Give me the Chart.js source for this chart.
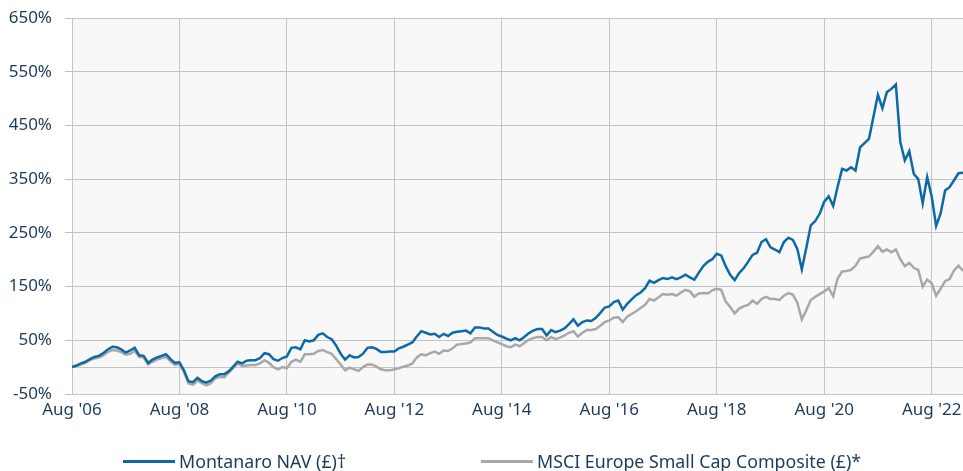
<!DOCTYPE html>
<html>
<head>
<meta charset="utf-8">
<title>Montanaro NAV vs MSCI Europe Small Cap</title>
<script src="https://cdn.jsdelivr.net/npm/chart.js@4.4.1/dist/chart.umd.min.js"></script>
<style>
  html, body { margin: 0; padding: 0; background: #fff; }
  #wrap { position: relative; width: 963px; height: 471px; }
  #chart { display: block; }
  .legend-item { position: absolute; top: 449px; height: 24px; display: flex; align-items: center;
    font-family: 'Noto Sans', sans-serif; font-size: 17.8px; color: #1b3a5c; white-space: nowrap; }
  .legend-item .swatch { display: inline-block; width: 52px; height: 3px; margin-right: 4px; }
</style>
</head>
<body>
<div id="wrap">
  <canvas id="chart" width="963" height="471"></canvas>
  <div class="legend-item" style="left:123px"><span class="swatch" style="background:#0e6aa5"></span>Montanaro NAV (£)†</div>
  <div class="legend-item" style="left:481px"><span class="swatch" style="background:#a8a8a8"></span>MSCI Europe Small Cap Composite (£)*</div>
</div>
<script>
// monthly, Aug 2006 (index 0) to Mar 2023 (index 199), cumulative % return
const montanaro = [
  0, 3, 7, 10, 15, 19, 21, 26, 33, 38,
  37, 33, 27, 31, 36, 22, 21, 8, 14, 18,
  21, 24, 15, 8, 9, -6, -26, -28, -20, -26,
  -29, -25, -17, -13, -13, -8, 1, 10, 7, 12,
  13, 13, 17, 26, 24, 15, 12, 17, 20, 36,
  37, 33, 50, 48, 50, 60, 63, 56, 52, 40,
  25, 14, 22, 18, 19, 25, 36, 37, 34, 28,
  28, 29, 29, 35, 38, 42, 46, 57, 67, 64,
  61, 62, 56, 62, 58, 64, 66, 67, 68, 63,
  74, 74, 72, 72, 66, 60, 57, 53, 50, 54,
  50, 56, 63, 68, 71, 71, 59, 69, 65, 68,
  72, 80, 89, 77, 84, 87, 86, 92, 101, 111,
  113, 121, 124, 107, 118, 126, 134, 139, 147, 161,
  157, 162, 166, 164, 167, 164, 167, 172, 167, 163,
  176, 188, 196, 201, 211, 208, 188, 172, 162, 175,
  184, 196, 209, 213, 233, 238, 223, 219, 214, 233,
  241, 237, 220, 182, 222, 264, 272, 286, 308, 318,
  300, 336, 369, 366, 372, 366, 409, 417, 425, 466,
  507, 482, 512, 518, 526, 419, 385, 402, 360, 350,
  305, 354, 318, 263, 286, 329, 335, 348, 361, 362
];
const msci = [
  0, 2, 5, 8, 13, 16, 18, 22, 28, 32,
  31, 28, 23, 25, 30, 19, 18, 5, 10, 14,
  17, 19, 11, 4, 6, -9, -30, -33, -25, -30,
  -34, -30, -21, -18, -19, -10, -2, 7, 2, 3,
  4, 4, 7, 13, 8, 0, -4, 0, -2, 10,
  14, 10, 24, 24, 25, 30, 32, 28, 25, 15,
  5, -6, -1, -4, -7, 0, 5, 5, 1, -4,
  -6, -6, -4, -2, 1, 3, 7, 18, 24, 22,
  26, 29, 25, 31, 30, 35, 42, 43, 44, 46,
  54, 54, 54, 54, 50, 46, 43, 39, 37, 42,
  39, 45, 51, 54, 56, 56, 50, 56, 52, 55,
  59, 64, 67, 57, 64, 69, 69, 71, 77, 84,
  87, 92, 93, 84, 94, 99, 104, 110, 116, 127,
  124, 130, 136, 135, 136, 133, 139, 144, 141, 131,
  137, 138, 137, 143, 146, 144, 122, 112, 100, 109,
  113, 116, 124, 118, 127, 131, 127, 127, 125, 133,
  138, 135, 120, 89, 106, 125, 131, 136, 141, 147,
  132, 165, 178, 179, 181, 189, 202, 204, 206, 215,
  225, 215, 219, 214, 219, 201, 188, 194, 185, 181,
  150, 163, 156, 133, 146, 160, 164, 180, 189, 179
];
const xTickLabels = ["Aug '06", "Aug '08", "Aug '10", "Aug '12", "Aug '14", "Aug '16", "Aug '18", "Aug '20", "Aug '22"];
const yTicks = [-50, 0, 50, 150, 250, 350, 450, 550, 650];

const gridColor = '#c4c4c4';
const textColor = '#1b3a5c';

const plotBg = {
  id: 'plotBg',
  beforeDraw(chart) {
    const { ctx, chartArea: a } = chart;
    ctx.save();
    ctx.fillStyle = '#f8f8f8';
    ctx.fillRect(a.left, a.top, a.right - a.left, a.bottom - a.top);
    ctx.restore();
  }
};

const toPoints = (arr) => arr.map((v, i) => ({ x: i, y: v }));

Chart.defaults.font.family = "'Noto Sans', sans-serif";
Chart.defaults.font.size = 17;
Chart.defaults.color = textColor;

new Chart(document.getElementById('chart'), {
  type: 'line',
  data: {
    datasets: [
      { label: 'Montanaro NAV (£)†', data: toPoints(montanaro), borderColor: '#0e6aa5', borderWidth: 2.5 },
      { label: 'MSCI Europe Small Cap Composite (£)*', data: toPoints(msci), borderColor: '#a8a8a8', borderWidth: 2.5 }
    ]
  },
  options: {
    responsive: false,
    animation: false,
    layout: { padding: { top: 18, right: 0, bottom: 0, left: 0 } },
    elements: { point: { radius: 0 }, line: { tension: 0 } },
    plugins: { legend: { display: false }, tooltip: { enabled: false } },
    scales: {
      x: {
        type: 'linear',
        min: 0,
        max: montanaro.length - 1,
        afterBuildTicks: (scale) => { scale.ticks = xTickLabels.map((_, i) => ({ value: i * 24 })); },
        afterFit: (scale) => { scale.height = 77; scale.paddingLeft = 0; scale.paddingRight = 0; },
        grid: { color: gridColor, drawTicks: false },
        border: { color: gridColor },
        ticks: {
          padding: 6,
          maxRotation: 0,
          callback: (v) => xTickLabels[v / 24]
        }
      },
      y: {
        min: -50,
        max: 650,
        afterBuildTicks: (scale) => { scale.ticks = yTicks.map((v) => ({ value: v })); },
        afterFit: (scale) => { scale.width = 72; scale.paddingTop = 0; scale.paddingBottom = 0; },
        grid: {
          color: gridColor,
          tickLength: 7,
          tickColor: (ctx) => (ctx.tick && ctx.tick.value === 0 ? 'rgba(0,0,0,0)' : gridColor)
        },
        border: { color: gridColor },
        ticks: {
          padding: 13,
          callback: (v) => (v === 0 ? '' : v + '%')
        }
      }
    }
  },
  plugins: [plotBg]
});
</script>
</body>
</html>
